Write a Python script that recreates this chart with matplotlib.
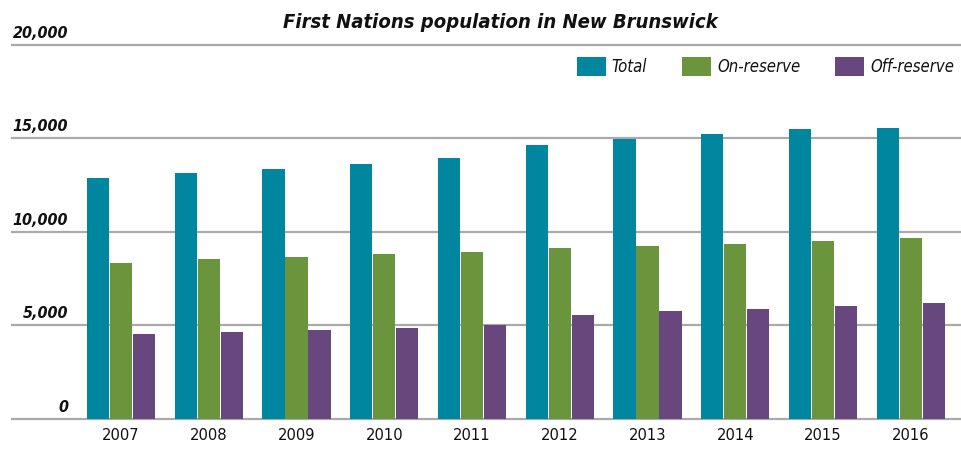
import matplotlib
matplotlib.use("Agg")
import matplotlib.pyplot as plt
import matplotlib.transforms as mtransforms
import numpy as np

years = ["2007", "2008", "2009", "2010", "2011", "2012", "2013", "2014", "2015", "2016"]
total = [12900, 13170, 13380, 13650, 13970, 14670, 14990, 15240, 15510, 15560]
on_reserve = [8345, 8560, 8670, 8830, 8935, 9150, 9240, 9343, 9505, 9665]
off_reserve = [4540, 4650, 4755, 4860, 5020, 5560, 5760, 5860, 6020, 6180]
series_names = ["Total", "On-reserve", "Off-reserve"]
colors = ["#00869E", "#6A953D", "#67477D"]
yticks = [0, 5000, 10000, 15000, 20000]
title = "First Nations population in New Brunswick"

plt.rcParams["font.family"] = ["DejaVu Sans"]
plt.rcParams["font.stretch"] = "condensed"

fig = plt.figure(figsize=(9.61, 4.51), dpi=100)
ax = fig.add_axes([12/961, (451-418.7)/451, 1-12/961, (418.7-45)/451])

x = np.arange(len(years))
w = 0.252
off = 0.262
for i, (vals, c, name) in enumerate(zip([total, on_reserve, off_reserve], colors, series_names)):
    ax.bar(x + (i-1)*off, vals, width=w, color=c, label=name, zorder=3)

ax.set_ylim(0, 20000)
ax.set_xlim(-1.242, 9.572)
ax.set_yticks(yticks)
ax.set_yticklabels([])
ax.tick_params(axis="y", length=0)
for t in yticks[1:]:
    ax.axhline(t, color="#aaaaaa", linewidth=1.6, zorder=1, clip_on=False)
for s in ["top", "right", "left"]:
    ax.spines[s].set_visible(False)
ax.spines["bottom"].set_color("#aaaaaa")
ax.spines["bottom"].set_linewidth(1.6)

ax.set_xticks(x)
ax.set_xticklabels(years, fontsize=11.8, color="#111111")
ax.tick_params(axis="x", length=0, pad=7)

trans = mtransforms.blended_transform_factory(fig.transFigure, ax.transData)
for t in yticks:
    txt = f"{t:,}"
    tr = trans + mtransforms.ScaledTranslation(0, 4/100, fig.dpi_scale_trans)
    fig.text(68/961, t, txt, transform=tr, ha="right", va="bottom",
             fontsize=11.5, fontstyle="italic", fontweight="bold", color="#111111")

fig.text(500/961, 1 - 22/451, title, ha="center", va="center", fontsize=14.5,
         fontstyle="italic", fontweight="bold", color="#111111")

leg = ax.legend(loc="upper right", bbox_to_anchor=(1.0, (418.7-50)/(418.7-45)), ncol=3,
                frameon=False, prop={"style": "italic", "size": 12, "stretch": "condensed"},
                handlelength=1.75, handleheight=1.45, handletextpad=0.35, columnspacing=2.1,
                borderaxespad=0)
for txt in leg.get_texts():
    txt.set_color("#111111")

fig.savefig("out.png", dpi=100)
